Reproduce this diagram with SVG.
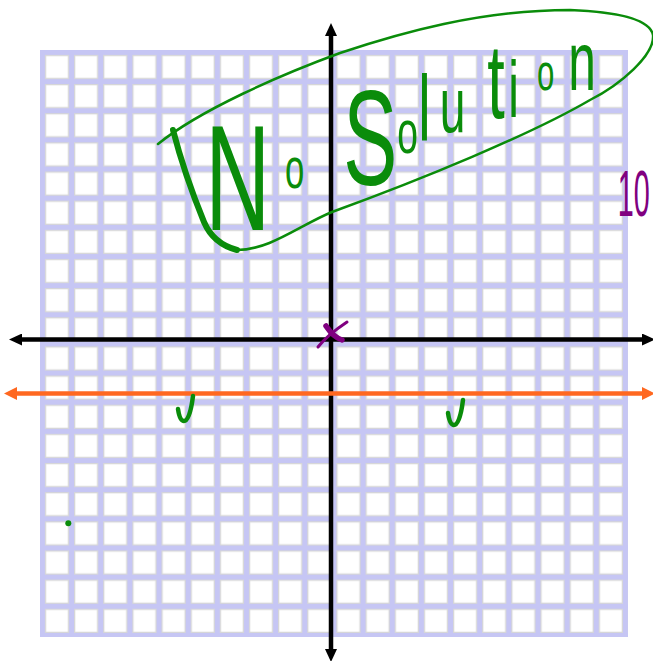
<svg xmlns="http://www.w3.org/2000/svg" width="653" height="661" viewBox="0 0 653 661">
<style>
.axis{stroke:#000;stroke-width:4.5;fill:none}
.orange{stroke:#ff6820;stroke-width:4.5;fill:none}
.ink{fill:none;stroke:#0a8c0a;stroke-linecap:round;stroke-linejoin:round}
.purple{fill:none;stroke:#800080;stroke-linecap:round}
.hw{font-family:"Liberation Sans",Arial,sans-serif;fill:#0a8c0a}
.pt{font-family:"Liberation Sans",Arial,sans-serif;fill:#800080}
</style>
<defs>
<pattern id="cells" patternUnits="userSpaceOnUse" x="40" y="50" width="29.15" height="29.15">
<rect x="5.5" y="5.5" width="23" height="23" fill="#fff" stroke="#d6d6d6" stroke-width="1.2"/>
</pattern>
<marker id="ab" viewBox="0 0 13 12" refX="1" refY="6" markerWidth="13" markerHeight="12" markerUnits="userSpaceOnUse" orient="auto-start-reverse">
<path d="M0,0 L13,6 L0,12 z" fill="#000"/>
</marker>
<marker id="ao" viewBox="0 0 13 13" refX="1" refY="6.5" markerWidth="13" markerHeight="13" markerUnits="userSpaceOnUse" orient="auto-start-reverse">
<path d="M0,0 L13,6.5 L0,13 z" fill="#ff6820"/>
</marker>
</defs>
<g id="grid">
<rect x="40" y="50" width="588" height="587" fill="#c6c6f4"/>
<rect x="40" y="50" width="588" height="587" fill="url(#cells)"/>
</g>
<g id="connectors">
<line class="axis" x1="21" y1="339.5" x2="643" y2="339.5" marker-start="url(#ab)" marker-end="url(#ab)"/>
<line class="axis" x1="331" y1="35" x2="331" y2="650" marker-start="url(#ab)" marker-end="url(#ab)"/>
<line class="orange" x1="16" y1="393.5" x2="643" y2="393.5" marker-start="url(#ao)" marker-end="url(#ao)"/>
</g>
<g id="oval">
<path class="ink" stroke-width="2.5" d="M158,144 C200,110 280,75 340,53 C400,33 480,10 570,10 C620,12 650,20 653,35 C655,55 620,85 590,100 C530,135 420,180 332,212 C300,225 270,250 237,250"/>
<path class="ink" stroke-width="6" d="M237,250 C222,246 210,236 204,222 C195,200 182,165 173,130"/>
</g>
<g id="label">
<text class="hw" transform="scale(0.6 1)"><tspan x="342" y="230" font-size="150">N</tspan><tspan x="475" y="188" font-size="58">o </tspan><tspan x="572" y="185" font-size="135">S</tspan><tspan x="662" y="153" font-size="62">o</tspan><tspan x="697" y="140" font-size="93">l</tspan><tspan x="733" y="132" font-size="77">u</tspan><tspan x="812" y="118" font-size="105">t</tspan><tspan x="847" y="117" font-size="80">i</tspan><tspan x="895" y="90" font-size="52">o</tspan><tspan x="947" y="90" font-size="83">n</tspan></text>
</g>
<g id="marks">
<path class="ink" stroke-width="4.5" d="M178,409 C179,416 181,421 184,421 C188,421 191,412 193,396"/>
<path class="ink" stroke-width="4.5" d="M448,413 C449,420 451,425 454,425 C458,425 461,416 463,400"/>
<circle cx="68.3" cy="523.3" r="3" fill="#0a8c0a"/>
<path class="purple" stroke-width="3" d="M347,322 C338,328 325,338 318,347"/>
<path class="purple" stroke-width="5.5" d="M326,326 C330,332 336,338 342,340"/>
<text class="pt" transform="scale(0.45 1)" x="1373" y="216" font-size="64">10</text>
</g>
</svg>
